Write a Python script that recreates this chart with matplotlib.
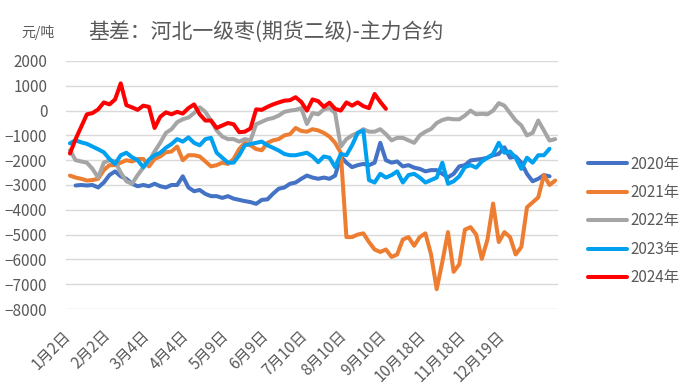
import numpy as np
import matplotlib
matplotlib.use("Agg")
import matplotlib.pyplot as plt
from matplotlib.transforms import ScaledTranslation

plt.rcParams['font.family'] = ['Noto Sans CJK SC', 'DejaVu Sans']

nan = np.nan
# one point every 3 trading days
tick_pos = [0, 7, 14, 21, 28, 35, 42, 49, 56, 63, 70, 77]
tick_labels = ["1月2日", "2月2日", "3月4日", "4月4日", "5月9日", "6月9日",
               "7月10日", "8月10日", "9月10日", "10月18日", "11月18日", "12月19日"]

y2020 = [nan, -3020, -3000, -3020, -3000, -3100, -2900, -2600, -2450, -2650,
         -2750, -2950, -3050, -3000, -3050, -2950, -3050, -3100, -3000, -3000,
         -2650, -3100, -3250, -3200, -3360, -3450, -3450, -3520, -3450, -3550,
         -3600, -3650, -3690, -3760, -3600, -3580, -3350, -3150, -3100, -2950,
         -2900, -2750, -2620, -2700, -2750, -2700, -2750, -2620, -1850, -2100,
         -2280, -2200, -2150, -2200, -2100, -1300, -2000, -2100, -2050, -2250,
         -2200, -2300, -2350, -2450, -2400, -2400, -2550, -2690, -2550, -2250,
         -2200, -2010, -1980, -1950, -1900, -1800, -1750, -1480, -1900, -1850,
         -2100, -2550, -2850, -2750, -2600, -2650]

y2021 = [-2620, -2700, -2750, -2820, -2800, -2750, -2400, -2200, -2200, -2100,
         -2000, -2050, -1950, -1950, -2250, -1950, -1850, -1680, -1650, -1450,
         -2000, -1800, -1800, -1850, -2050, -2250, -2200, -2100, -2150, -1950,
         -1550, -1300, -1400, -1550, -1600, -1300, -1200, -1150, -1000, -950,
         -700, -820, -850, -750, -800, -900, -1050, -1300, -1700, -5100,
         -5100, -5000, -4950, -5300, -5600, -5700, -5600, -5900, -5800, -5200,
         -5100, -5450, -5100, -4950, -5800, -7200, -6100, -4900, -6500, -6200,
         -4800, -4700, -5000, -5980, -5200, -3750, -5300, -4900, -5100, -5800,
         -5500, -3900, -3700, -3500, -2600, -3000, -2820]

y2022 = [-1600, -2000, -2050, -2100, -2350, -2700, -2100, -2000, -2050, -2500,
         -2850, -2950, -2600, -2300, -2050, -1650, -1300, -900, -750, -470,
         -350, -280, -100, 130, -50, -400, -800, -1050, -1150, -1150,
         -1250, -1150, -1200, -550, -450, -350, -300, -200, -50, 0,
         30, 100, -540, -100, -150, 50, 100, -100, -1450, -1150,
         -1000, -900, -750, -850, -850, -750, -950, -1200, -1100, -1100,
         -1200, -1300, -1000, -850, -740, -500, -380, -320, -350, -350,
         -200, 0, -150, -130, -150, 0, 300, 200, -100, -400,
         -600, -1000, -900, -400, -800, -1210, -1150]

y2023 = [-1320, -1200, -1280, -1340, -1450, -1560, -1680, -1950, -2150, -1800,
         -1700, -1880, -2000, -2280, -1980, -1800, -1700, -1500, -1350, -1150,
         -1250, -1080, -1300, -1400, -1150, -1100, -1700, -1900, -2100, -2100,
         -1800, -1400, -1350, -1300, -1250, -1400, -1500, -1610, -1750, -1800,
         -1800, -1750, -1700, -1850, -2080, -1850, -1900, -2280, -1750, -1800,
         -1400, -900, -800, -2800, -2900, -2550, -2700, -2600, -2450, -2900,
         -2600, -2550, -2700, -2900, -2800, -2700, -2100, -2950, -2850, -2650,
         -2280, -2200, -2300, -2050, -1900, -1750, -1300, -1700, -1650, -1900,
         -2350, -1900, -2100, -1800, -1800, -1540]

y2024 = [-1730, -1150, -650, -150, -100, 50, 330, 250, 450, 1100,
         220, 130, 30, 200, 150, -700, -250, -70, -150, -50,
         -120, 100, 250, -150, -400, -400, -700, -600, -500, -550,
         -870, -850, -720, 50, 30, 150, 250, 330, 400, 420,
         540, 350, 0, 450, 380, 150, 320, 70, 0, 330,
         200, 330, 180, 100, 670, 350, 70]

series = [("2020年", y2020, "#4472C4"),
          ("2021年", y2021, "#ED7D31"),
          ("2022年", y2022, "#A5A5A5"),
          ("2023年", y2023, "#00A0F0"),
          ("2024年", y2024, "#FF0000")]

fig = plt.figure(figsize=(7, 3.9), dpi=100)
ax = fig.add_axes([66/700, 1-309/390, (558-66)/700, (309-61)/390])

for name, vals, col in series:
    ax.plot(np.arange(len(vals)), vals, color=col, lw=2.9, label=name,
            solid_capstyle='round', solid_joinstyle='round')

ax.set_xlim(-0.7, 86.5)
ax.set_ylim(-8000, 2000)
ax.set_yticks(np.arange(-8000, 2001, 1000))
ax.yaxis.grid(True, color="#D9D9D9", lw=1)
ax.set_axisbelow(True)
for s in ax.spines.values():
    s.set_visible(False)
ax.tick_params(axis='both', length=0, colors="#595959")
ax.tick_params(axis='y', labelsize=11, pad=13.5)
ax.set_xticks(tick_pos)
ax.set_xticklabels(tick_labels, rotation=45, ha='right', rotation_mode='anchor',
                   fontsize=11)
ax.tick_params(axis='x', pad=8)
shift = ScaledTranslation(-8/100, -7/100, fig.dpi_scale_trans)
for lbl in ax.get_xticklabels():
    lbl.set_transform(lbl.get_transform() + shift)

fig.text(21/700, 1-33/390, "元/吨", fontsize=10, color="#595959", va='center')
fig.text(88/700, 1-33/390, "基差：河北一级枣(期货二级)-主力合约", fontsize=15,
         color="#595959", va='center')

fig.legend(loc='center left', bbox_to_anchor=(580/700, 1-221/390),
           bbox_transform=fig.transFigure, frameon=False, fontsize=11,
           handlelength=2.6, handletextpad=0.2, labelspacing=0.75,
           borderpad=0, labelcolor="#595959")

fig.savefig("out.png", dpi=100)
